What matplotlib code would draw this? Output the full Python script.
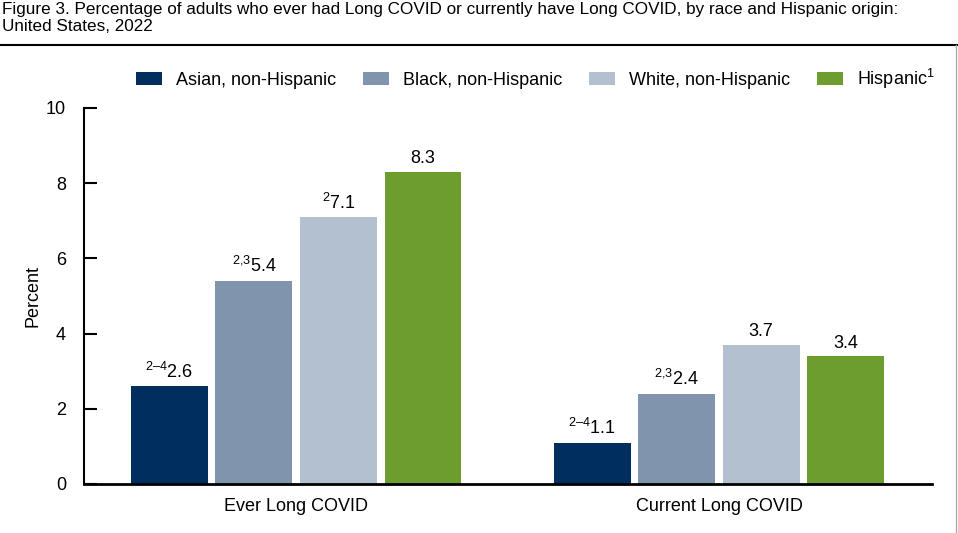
import matplotlib
matplotlib.use("Agg")
import matplotlib.pyplot as plt
from matplotlib.patches import Patch
from matplotlib.lines import Line2D

plt.rcParams['font.family'] = ['Liberation Sans', 'DejaVu Sans']
plt.rcParams['mathtext.fontset'] = 'custom'
plt.rcParams['mathtext.rm'] = 'Liberation Sans'
plt.rcParams['mathtext.it'] = 'Liberation Sans'

title = ("Figure 3. Percentage of adults who ever had Long COVID or currently have Long COVID, by race and Hispanic origin:\n"
         "United States, 2022")
groups = ["Ever Long COVID", "Current Long COVID"]
series = ["Asian, non-Hispanic", "Black, non-Hispanic", "White, non-Hispanic", "Hispanic$^{1}$"]
values = [
    [2.6, 1.1],
    [5.4, 2.4],
    [7.1, 3.7],
    [8.3, 3.4],
]
notes = [
    ["2–4", "2–4"],
    ["2{,}3", "2{,}3"],
    ["2", ""],
    ["", ""],
]
colors = ["#002E5E", "#8194AD", "#B2C0D0", "#6D9C2F"]
y_ticks = [0, 2, 4, 6, 8, 10]

fs = 13
fig = plt.figure(figsize=(9.58, 5.33), dpi=100)
ax = fig.add_axes([84/958, 49/533, (932-84)/958, (484-108)/533])

width = 0.91
group_offset = 5
for i, (name, vals, col) in enumerate(zip(series, values, colors)):
    xs = [g * group_offset + i for g in range(len(groups))]
    ax.bar(xs, vals, width=width, color=col, edgecolor='none', label=name)
    for x, v, n in zip(xs, vals, notes[i]):
        s = (f"$^{{\\mathrm{{{n}}}}}$" if n else "") + f"{v:.1f}"
        ax.text(x, v + 0.12, s, ha='center', va='bottom', fontsize=fs)

ax.set_xlim(-1.01, 9.02)
ax.set_ylim(0, 10)
ax.set_yticks(y_ticks)
ax.set_yticklabels([str(t) for t in y_ticks], fontsize=fs)
ax.set_xticks([1.5, 6.5])
ax.set_xticklabels(groups, fontsize=fs)
ax.tick_params(axis='x', length=0, pad=10)
ax.tick_params(axis='y', direction='in', length=9, width=1.5, pad=13)
for sp in ['top', 'right']:
    ax.spines[sp].set_visible(False)
ax.spines['left'].set_linewidth(1.5)
ax.spines['bottom'].set_linewidth(2)
ax.set_ylabel("Percent", fontsize=fs, labelpad=3)

handles = [Patch(facecolor=c, edgecolor='none') for c in colors]
fig.legend(handles, series, loc='center', bbox_to_anchor=(535/958, 1 - 79/533),
           ncol=4, frameon=False, fontsize=fs, handlelength=1.45, handleheight=0.75,
           handletextpad=0.75, columnspacing=1.5)

fig.text(2/958, 1 - 2/533, title, ha='left', va='top', fontsize=12.3, linespacing=1.2)

fig.add_artist(Line2D([0, 957/958], [1 - 45/533, 1 - 45/533], color='black', lw=1.5,
                      transform=fig.transFigure))
fig.add_artist(Line2D([956/958, 956/958], [0, 1 - 45/533], color='#AAAAAA', lw=1,
                      transform=fig.transFigure))

fig.savefig("out.png", dpi=100)
